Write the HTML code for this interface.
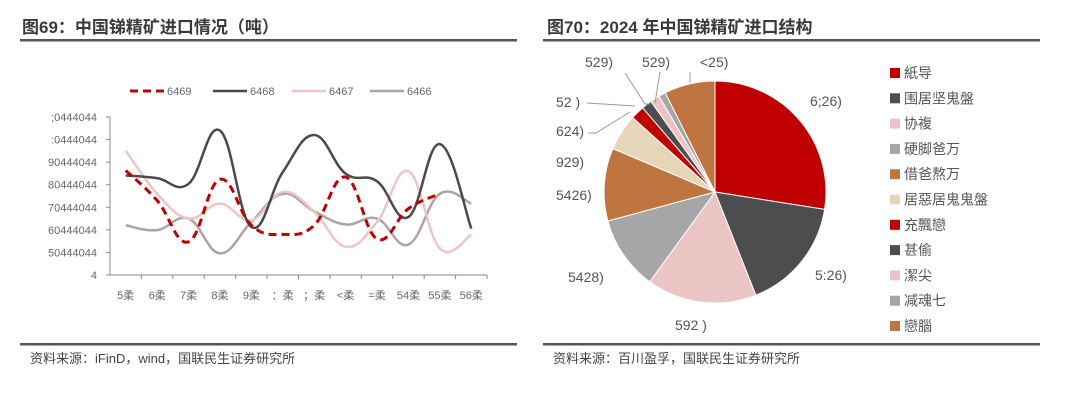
<!DOCTYPE html>
<html><head><meta charset="utf-8"><style>
body{margin:0;width:1080px;height:400px;background:#fff;overflow:hidden;font-family:"Liberation Sans","Noto Sans CJK SC",sans-serif;}
svg{position:absolute;left:0;top:0}
</style></head><body>
<svg width="1080" height="400">
<g id="frame">
<text x="22" y="33" font-size="17" font-weight="bold" fill="#3a3a3a" font-family="Liberation Sans,Noto Sans CJK SC,sans-serif">图69：中国锑精矿进口情况（吨）</text>
<text x="547" y="33" font-size="17" font-weight="bold" fill="#3a3a3a" font-family="Liberation Sans,Noto Sans CJK SC,sans-serif">图70：2024 年中国锑精矿进口结构</text>
<rect x="20" y="39" width="497" height="2.5" fill="#555"/>
<rect x="543" y="39" width="497" height="2.5" fill="#555"/>
<rect x="20" y="343" width="497" height="2.5" fill="#555"/>
<rect x="543" y="343" width="497" height="2.5" fill="#555"/>
<text x="30" y="363" font-size="13" fill="#444" font-family="Liberation Sans,Noto Sans CJK SC,sans-serif">资料来源：iFinD，wind，国联民生证券研究所</text>
<text x="553" y="363" font-size="13" fill="#444" font-family="Liberation Sans,Noto Sans CJK SC,sans-serif">资料来源：百川盈孚，国联民生证券研究所</text>
</g>
<g id="line-chart"></g>
<g id="pie-chart"></g>
</svg>
<script>
const categories=["5柔","6柔","7柔","8柔","9柔","：柔","；柔","<柔","=柔","54柔","55柔","56柔"];
const yTickLabels=["4","50444044","60444044","70444044","80444044","90444044",":0444044",";0444044"];
const seriesNames=["6469","6468","6467","6466"];
const s6469=[4.63,3.3,1.47,4.24,2.2,1.8,2.2,4.34,1.6,2.94,3.6,null];
const s6468=[4.41,4.29,4.04,6.4,2.13,4.56,6.2,4.49,4.15,2.57,5.8,2.06];
const s6467=[5.51,3.6,2.5,3.16,2.43,3.68,2.8,1.25,2.35,4.59,1.18,1.79];
const s6466=[2.2,1.99,2.5,0.96,2.35,3.6,2.82,2.24,2.5,1.35,3.6,3.16];
const pieLabels=["紙导","围居坚鬼盤","协複","硬脚爸万","借爸熬万","居惡居鬼鬼盤","充飄戀","甚偷","潔尖","减魂七","戀腦"];
const pieValues=[27.5,16.5,16,10.8,10.6,5.3,2,1.5,1.4,1,7.4];
const pieValueText=["6;26)","5:26)","592 )","5428)","5426)","929)","624)","52 )","529)","529)","<25)"];

const NS="http://www.w3.org/2000/svg";
function mk(tag,attrs,parent){const e=document.createElementNS(NS,tag);for(const k in attrs)e.setAttribute(k,attrs[k]);parent.appendChild(e);return e;}
const F="Liberation Sans,Noto Sans CJK SC,sans-serif";
// line chart
const lc=document.getElementById('line-chart');
const x0=110,x1=487,yTop=117,yBot=275,nT=7;
const band=(x1-x0)/categories.length;
const xs=i=>x0+band*(i+0.5);
const ys=v=>yBot-(v/nT)*(yBot-yTop);
let ax=mk('line',{x1:x0,y1:yTop,x2:x0,y2:yBot,stroke:'#888','stroke-width':1},lc);


let bx=mk('line',{x1:x0,y1:yBot,x2:x1,y2:yBot,stroke:'#888','stroke-width':1},lc);


yTickLabels.forEach((t,i)=>{const y=ys(i);
 const tk=mk('line',{x1:x0-4,y1:y,x2:x0,y2:y,stroke:'#888'},lc);
 
 
 const tx=mk('text',{x:x0-13,y:y+4,'font-size':11,fill:'#666','text-anchor':'end','font-family':F},lc);tx.textContent=t;
 
 });
categories.forEach((c,i)=>{
 const tk=mk('line',{x1:x0+band*(i+1),y1:yBot,x2:x0+band*(i+1),y2:yBot+4,stroke:'#888'},lc);
 
 
 const tx=mk('text',{x:xs(i),y:yBot+24,'font-size':11,fill:'#666','text-anchor':'middle','font-family':F},lc);tx.textContent=c;
 
 });
function smooth(pts){if(pts.length<2)return'';let d='M'+pts[0][0]+','+pts[0][1];
 for(let i=0;i<pts.length-1;i++){const p0=pts[i-1]||pts[i],p1=pts[i],p2=pts[i+1],p3=pts[i+2]||p2;const t=0.2;
 d+=' C'+(p1[0]+(p2[0]-p0[0])*t)+','+(p1[1]+(p2[1]-p0[1])*t)+' '+(p2[0]-(p3[0]-p1[0])*t)+','+(p2[1]-(p3[1]-p1[1])*t)+' '+p2[0]+','+p2[1];}return d;}
const styles=[{c:'#c00000',w:3,d:'8,5'},{c:'#4a4a4a',w:2.5,d:''},{c:'#f0c4c4',w:2.5,d:''},{c:'#a6a6a6',w:2.5,d:''}];
const allS=[s6469,s6468,s6467,s6466];
[3,2,1,0].forEach(k=>{const pts=[];allS[k].forEach((v,i)=>{if(v!==null)pts.push([xs(i),ys(v)]);});
 const p=mk('path',{d:smooth(pts),fill:'none',stroke:styles[k].c,'stroke-width':styles[k].w,'stroke-dasharray':styles[k].d},lc);
 
 });
const legX=[130,213,292,370];
seriesNames.forEach((n,k)=>{const g=mk('g',{},lc);
 
 
 mk('line',{x1:legX[k],y1:91,x2:legX[k]+34,y2:91,stroke:styles[k].c,'stroke-width':styles[k].w,'stroke-dasharray':styles[k].d},g);
 const t=mk('text',{x:legX[k]+37,y:95,'font-size':11,fill:'#666','font-family':F},g);t.textContent=n;});
// pie
const pc=document.getElementById('pie-chart');
const cx=715,cy=192,r=111;
const colors=['#c00000','#4d4d4f','#ebc4c4','#a6a6a6','#bf7540','#e6d6b8','#c00000','#4d4d4f','#ebc4c4','#a6a6a6','#bf7540'];
const tot=pieValues.reduce((a,b)=>a+b,0);
let acc=0;
pieValues.forEach((v,i)=>{const a0=acc/tot*2*Math.PI;acc+=v;const a1=acc/tot*2*Math.PI;
 const p=(a)=>[cx+r*Math.sin(a),cy-r*Math.cos(a)];const A=p(a0),B=p(a1);
 const s=mk('path',{d:`M${cx},${cy} L${A[0]},${A[1]} A${r},${r} 0 ${a1-a0>Math.PI?1:0} 1 ${B[0]},${B[1]} Z`,fill:colors[i],stroke:'#fff','stroke-width':1},pc);
 
 });
const labPos=[[810,106],[815,280],[675,330],[568,282],[556,200],[556,167],[556,136],[556,107],[585,67],[642,67],[700,67]];
const leaders=[[[625,73],[645,104],[650,104]],[[660,72],[655,103]],[[690,72],[690,83]],[[587,103],[635,106]],[[588,133],[596,133],[630,112]]];
leaders.forEach(L=>{const l=mk('polyline',{points:L.map(p=>p.join(',')).join(' '),fill:'none',stroke:'#999','stroke-width':1},pc);
 
 });
pieValueText.forEach((t,i)=>{const tx=mk('text',{x:labPos[i][0],y:labPos[i][1],'font-size':14,fill:'#555','font-family':F},pc);tx.textContent=t;
 
 });
pieLabels.forEach((n,i)=>{const y=73+i*25.3;const g=mk('g',{},pc);
 
 
 mk('rect',{x:890,y:y-5,width:10,height:10,fill:colors[i]},g);
 const t=mk('text',{x:904,y:y+5,'font-size':14,fill:'#555','font-family':F},g);t.textContent=n;});
</script>
</body></html>
